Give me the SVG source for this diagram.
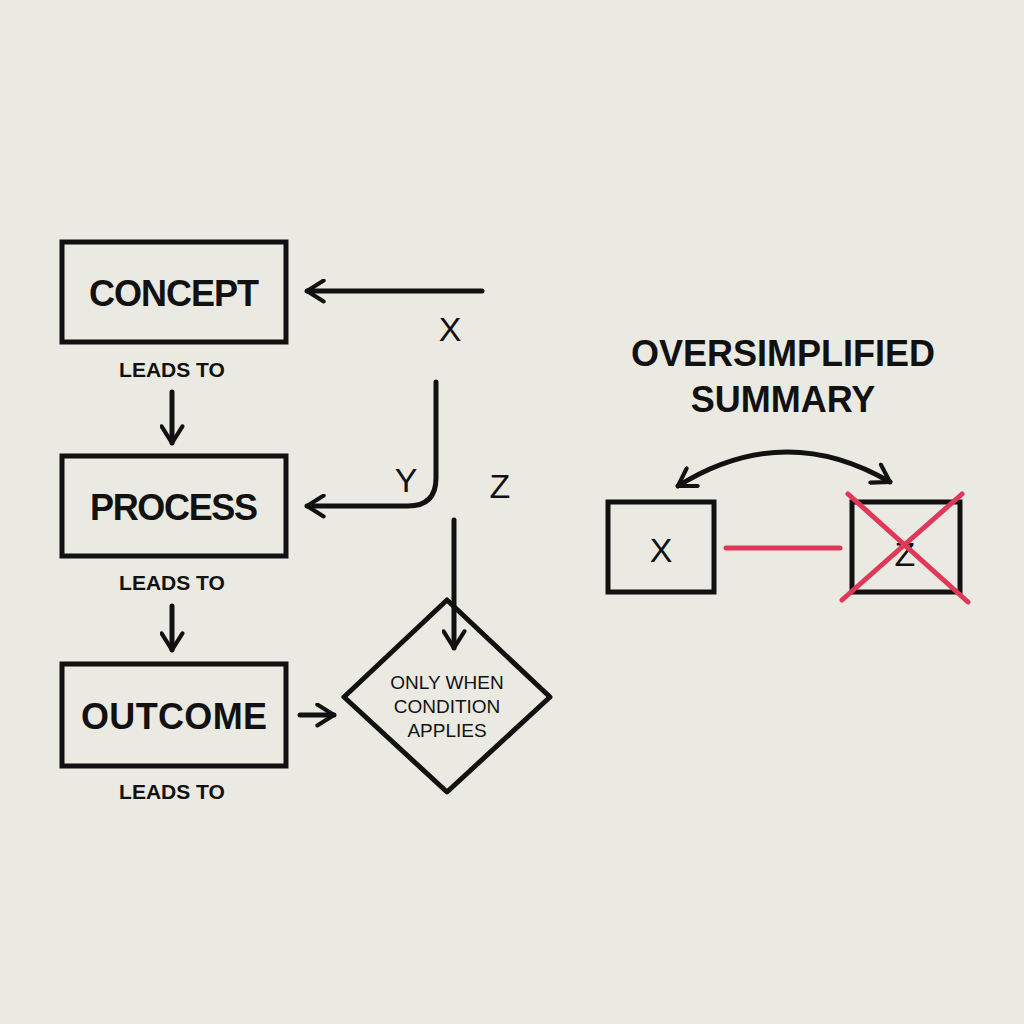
<svg xmlns="http://www.w3.org/2000/svg" width="1024" height="1024" viewBox="0 0 1024 1024">
<style>
.box{fill:none;stroke:#111;stroke-width:5}
.ln{fill:none;stroke:#111;stroke-width:5;stroke-linecap:round;stroke-linejoin:round}
.red{fill:none;stroke:#e0385a;stroke-width:5;stroke-linecap:round}
text{font-family:"Liberation Sans",Arial,sans-serif;font-weight:bold;fill:#111;text-anchor:middle}
.big{font-size:36px}
.sm{font-size:21px}
.lab{font-size:34px;font-weight:normal}
</style>
<defs>
<marker id="ah" viewBox="0 0 12 12" refX="10" refY="6" markerWidth="5" markerHeight="5" orient="auto-start-reverse" markerUnits="strokeWidth">
<path d="M2,1 L10,6 L2,11" fill="none" stroke="#111" stroke-width="2" stroke-linecap="round" stroke-linejoin="round"/>
</marker>
</defs>
<rect width="1024" height="1024" fill="#ebeae2"/>
<g id="concept"><rect class="box" x="62" y="242" width="224" height="100"/><text class="big" x="174" y="306" textLength="170">CONCEPT</text></g>
<g id="process"><rect class="box" x="62" y="456" width="224" height="100"/><text class="big" x="174" y="520" textLength="168">PROCESS</text></g>
<g id="outcome"><rect class="box" x="62" y="664" width="224" height="102"/><text class="big" x="174" y="729" textLength="186">OUTCOME</text></g>
<g id="labels">
<text class="sm" x="172" y="377">LEADS TO</text>
<text class="sm" x="172" y="590">LEADS TO</text>
<text class="sm" x="172" y="799">LEADS TO</text>
<text class="lab" x="450" y="341">X</text>
<text class="lab" x="406" y="492">Y</text>
<text class="lab" x="500" y="498">Z</text>
</g>
<g id="condition"><polygon class="box" points="447,600 550,697 447,792 344,697" stroke-linejoin="round"/>
<text style="font-size:19px;font-weight:normal" x="447" y="689">ONLY WHEN</text>
<text style="font-size:19px;font-weight:normal" x="447" y="713">CONDITION</text>
<text style="font-size:19px;font-weight:normal" x="447" y="737">APPLIES</text></g>
<g id="summary">
<text class="big" x="783" y="366">OVERSIMPLIFIED</text>
<text class="big" x="783" y="412">SUMMARY</text>
<rect class="box" x="608" y="502" width="106" height="90"/><text class="lab" x="661" y="562">X</text>
<rect class="box" x="852" y="502" width="108" height="90"/><text class="lab" x="905" y="566">Z</text>
</g>
<g id="connectors">
<line class="ln" x1="172" y1="392" x2="172" y2="443" marker-end="url(#ah)"/>
<line class="ln" x1="172" y1="606" x2="172" y2="650" marker-end="url(#ah)"/>
<line class="ln" x1="300" y1="715" x2="334" y2="715" marker-end="url(#ah)"/>
<line class="ln" x1="482" y1="291" x2="307" y2="291" marker-end="url(#ah)"/>
<path class="ln" d="M436,382 V478 Q436,506 408,506 H307" marker-end="url(#ah)"/>
<line class="ln" x1="454" y1="520" x2="454" y2="648" marker-end="url(#ah)"/>
<path class="ln" d="M678,486 Q784,420 890,482" marker-start="url(#ah)" marker-end="url(#ah)"/>
<line class="red" x1="726" y1="548" x2="840" y2="548"/>
<line class="red" x1="848" y1="494" x2="968" y2="602"/>
<line class="red" x1="842" y1="600" x2="962" y2="494"/>
</g>
</svg>
